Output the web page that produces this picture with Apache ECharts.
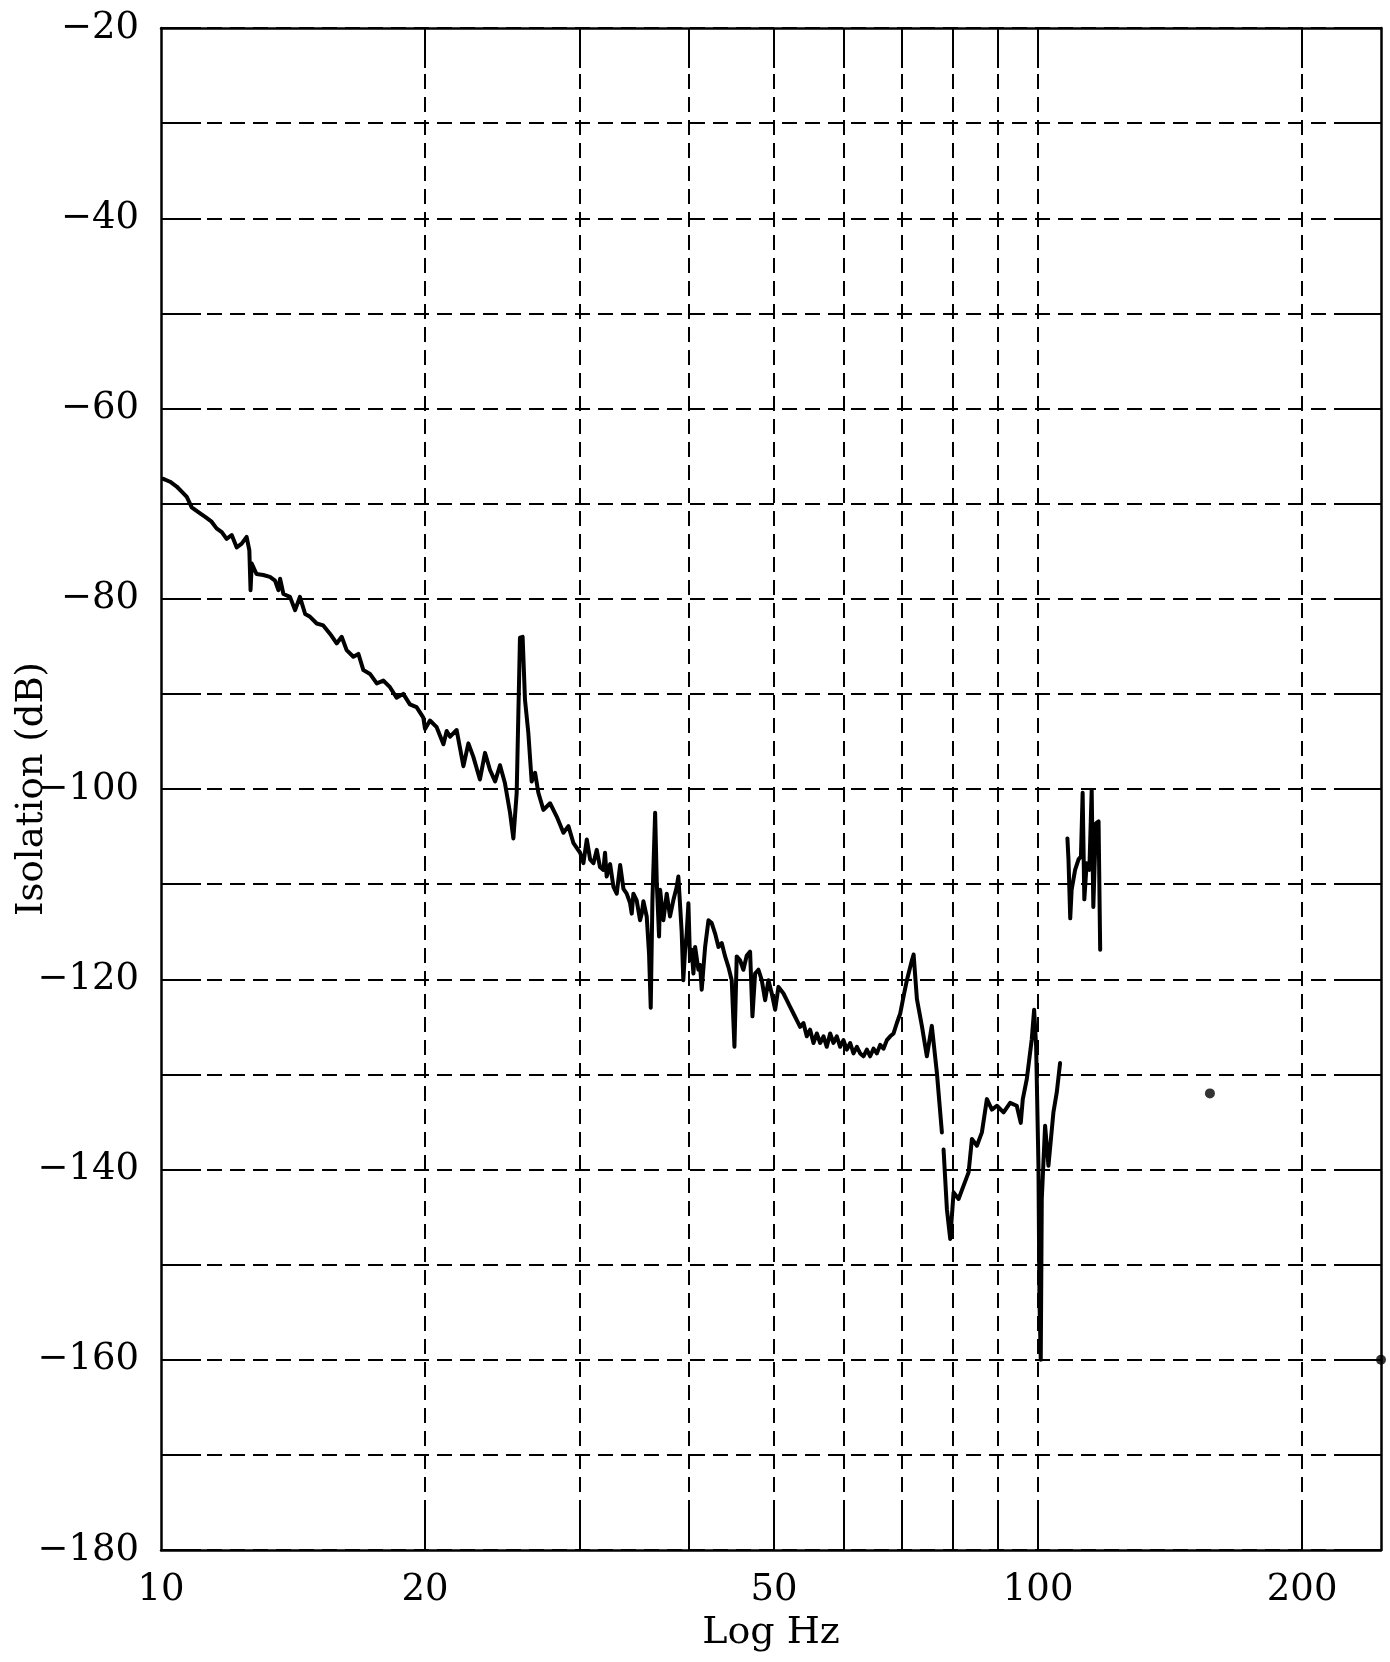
<!DOCTYPE html>
<html>
<head>
<meta charset="utf-8">
<title>Isolation vs frequency</title>
<script src="https://cdn.jsdelivr.net/npm/echarts@6/dist/echarts.min.js"></script>
<style>
  html, body { margin: 0; padding: 0; background: #fff; }
  #chart { width: 1390px; height: 1662px; }
</style>
</head>
<body>
<div id="chart"></div>
<script>
// Measured isolation trace, 10 Hz to 77.7 Hz (continuous sweep)
const freqLow = [
  10.06, 10.24, 10.42, 10.60, 10.70, 10.84, 11.03, 11.23, 11.42, 11.57,
  11.73, 11.88, 12.04, 12.20, 12.36, 12.52, 12.61, 12.65, 12.69, 12.85,
  13.08, 13.31, 13.49, 13.61, 13.67, 13.79, 14.03, 14.22, 14.40, 14.60,
  14.79, 15.05, 15.31, 15.59, 15.86, 16.07, 16.28, 16.57, 16.79, 17.01,
  17.31, 17.62, 17.93, 18.24, 18.56, 18.89, 19.22, 19.56, 19.91, 20.00,
  20.26, 20.62, 20.99, 21.17, 21.36, 21.73, 22.12, 22.41, 22.70, 23.10,
  23.41, 23.72, 24.04, 24.35, 24.67, 25.00, 25.22, 25.44, 25.66, 25.84,
  26.00, 26.23, 26.46, 26.70, 26.93, 27.29, 27.77, 28.26, 28.76, 29.14,
  29.53, 30.05, 30.31, 30.58, 30.85, 31.12, 31.39, 31.66, 31.94, 32.08,
  32.22, 32.51, 32.80, 33.08, 33.38, 33.52, 33.67, 33.96, 34.26, 34.41,
  34.56, 34.86, 35.17, 35.33, 35.48, 35.79, 36.01, 36.17, 36.33, 36.59,
  36.75, 36.97, 37.07, 37.39, 37.72, 38.05, 38.38, 38.72, 38.89, 39.23,
  39.40, 39.58, 39.75, 39.93, 40.10, 40.28, 40.46, 40.64, 40.99, 41.17,
  41.35, 41.72, 42.09, 42.45, 42.83, 43.21, 43.58, 43.97, 44.35, 44.74,
  45.06, 45.33, 45.73, 46.13, 46.54, 46.95, 47.24, 47.57, 47.99, 48.41,
  48.84, 49.27, 49.70, 50.14, 50.58, 51.25, 51.70, 52.15, 52.61, 53.07,
  53.54, 54.01, 54.48, 54.96, 55.45, 55.94, 56.43, 56.93, 57.42, 57.93,
  58.44, 58.95, 59.47, 59.99, 60.52, 61.06, 61.59, 62.14, 62.68, 63.23,
  63.79, 64.35, 64.91, 65.48, 66.06, 66.64, 67.23, 67.82, 68.42, 69.02,
  69.63, 70.24, 70.86, 71.80, 72.12, 72.75, 73.70, 74.68, 75.65, 76.66,
  77.68
];
const isoLow = [
  -67.4, -67.7, -68.2, -68.9, -69.3, -70.4, -70.9, -71.4, -71.9, -72.6,
  -73.0, -73.7, -73.3, -74.6, -74.2, -73.5, -74.9, -79.1, -76.3, -77.4,
  -77.5, -77.7, -78.1, -79.1, -77.9, -79.5, -79.8, -81.2, -79.8, -81.6,
  -81.9, -82.6, -82.8, -83.7, -84.7, -84.0, -85.4, -86.1, -85.8, -87.5,
  -87.9, -88.9, -88.6, -89.3, -90.4, -90.0, -91.1, -91.4, -92.5, -93.7,
  -92.8, -93.5, -95.3, -93.9, -94.5, -93.8, -97.6, -95.2, -96.6, -99.0,
  -96.2, -98.0, -99.2, -97.5, -99.4, -102.5, -105.2, -100.4, -84.1, -84.0,
  -90.6, -94.1, -99.2, -98.3, -100.4, -102.2, -101.5, -102.9, -104.6, -103.9,
  -105.7, -106.7, -107.8, -105.3, -107.4, -107.8, -106.4, -108.2, -108.5, -106.7,
  -109.2, -107.9, -110.3, -111.0, -108.0, -108.2, -110.5, -111.0, -112.0, -113.1,
  -111.0, -111.7, -113.8, -113.1, -111.8, -113.4, -117.3, -123.0, -111.7, -102.5,
  -109.9, -115.5, -110.6, -113.8, -111.0, -113.4, -111.7, -110.3, -109.2, -115.0,
  -120.1, -117.0, -115.2, -112.0, -118.0, -116.9, -119.4, -116.6, -119.0, -118.5,
  -121.1, -116.6, -113.8, -114.1, -115.2, -116.6, -116.2, -117.6, -118.7, -120.1,
  -127.1, -117.6, -118.0, -119.0, -117.5, -117.1, -123.9, -119.4, -119.0, -120.1,
  -122.2, -120.1, -121.5, -123.2, -120.8, -121.5, -122.2, -122.9, -123.6, -124.3,
  -125.0, -124.6, -126.0, -125.3, -126.7, -125.7, -126.7, -126.0, -127.1, -125.7,
  -126.7, -126.0, -127.1, -126.4, -127.4, -126.7, -127.8, -127.1, -127.8, -128.1,
  -127.4, -128.1, -127.3, -127.8, -126.9, -127.3, -126.4, -126.0, -125.7, -124.6,
  -123.6, -121.8, -120.1, -118.0, -117.4, -122.1, -124.9, -128.1, -124.9, -129.8,
  -136.1
];

// Trace resumes after the short dropout near 78 Hz
const freqHigh = [
  78.02, 78.71, 79.40, 80.10, 81.16, 82.23, 83.32, 84.05, 85.16, 86.28,
  87.42, 88.58, 89.74, 91.33, 92.92, 94.55, 95.55, 96.06, 97.07, 98.35,
  98.96, 99.48, 100.09, 100.35, 100.70, 100.97, 101.85, 102.75, 104.10, 105.02,
  105.94
];
const isoHigh = [
  -137.9, -144.2, -147.3, -142.4, -143.1, -141.7, -140.3, -136.8, -137.5, -136.1,
  -132.6, -133.7, -133.3, -134.0, -133.0, -133.3, -135.1, -132.6, -130.5, -126.3,
  -123.2, -127.0, -139.6, -153.6, -160.0, -143.1, -135.4, -139.6, -134.0, -131.9,
  -128.8
];

// Isolated band around 108-118 Hz
const freqBand = [
  108.0, 108.3, 108.8, 109.2, 110.2, 111.2, 111.9, 112.4, 112.9, 113.6,
  114.4, 115.1, 115.6, 116.4, 117.2, 117.7
];
const isoBand = [
  -105.2, -107.4, -113.6, -110.6, -108.5, -107.4, -107.1, -100.4, -111.6, -107.8,
  -108.5, -100.1, -112.4, -103.6, -103.4, -116.9
];

// Single isolated readings
const dotFreq = [157, 246];
const dotIso = [-132, -160];

// Axis ranges, grid positions and labelled ticks
const xMinHz = 10;
const xMaxHz = 246;
const xGridHz = [20, 30, 40, 50, 60, 70, 80, 90, 100, 200];
const xLabelHz = [10, 20, 50, 100, 200];
const yMinDb = -180;
const yMaxDb = -20;
const yStepDb = 10;

const pairs = (xs, ys) => xs.map((x, i) => [x, ys[i]]);

const FONT = 'DejaVu Serif';
const INK = '#000';
const gridDash = { type: [15, 8], color: INK, width: 2 };
const edge = { show: true, onZero: false, lineStyle: { color: INK, width: 2.5 } };
const tickStyle = { color: INK, width: 2 };

const traceStyle = { color: INK, width: 4, join: 'round', cap: 'round' };
const traceSeries = (name, xs, ys) => ({
  name, type: 'line', data: pairs(xs, ys),
  showSymbol: false, symbol: 'none', lineStyle: traceStyle,
  animation: false, z: 5
});

const chart = echarts.init(document.getElementById('chart'), null, { renderer: 'canvas' });
chart.setOption({
  backgroundColor: '#fff',
  animation: false,
  grid: { left: 161, right: 9, top: 28, bottom: 112, containLabel: false, outerBoundsMode: 'none' },
  xAxis: [
    {
      type: 'log', logBase: 10, min: xMinHz, max: xMaxHz, position: 'bottom',
      name: 'Log Hz', nameLocation: 'middle', nameGap: 64, nameMoveOverlap: false,
      nameTextStyle: { color: INK, fontFamily: FONT, fontSize: 38, verticalAlign: 'top' },
      axisLine: edge,
      axisTick: { show: true, inside: true, length: 40, lineStyle: tickStyle, customValues: xGridHz },
      axisLabel: { color: INK, fontFamily: FONT, fontSize: 37, margin: 22, customValues: xLabelHz,
                   formatter: v => String(Math.round(v)) },
      splitLine: { show: true, lineStyle: gridDash },
      minorTick: { show: false }, minorSplitLine: { show: false }
    },
    {
      type: 'log', logBase: 10, min: xMinHz, max: xMaxHz, position: 'top',
      axisLine: edge,
      axisTick: { show: true, inside: true, length: 40, lineStyle: tickStyle, customValues: xGridHz },
      axisLabel: { show: false },
      splitLine: { show: false }
    }
  ],
  yAxis: [
    {
      type: 'value', min: yMinDb, max: yMaxDb, interval: yStepDb, position: 'left',
      name: 'Isolation (dB)', nameLocation: 'middle', nameGap: 110, nameRotate: 90,
      nameMoveOverlap: false,
      nameTextStyle: { color: INK, fontFamily: FONT, fontSize: 37 },
      axisLine: edge,
      axisTick: { show: true, inside: true, length: 40, lineStyle: tickStyle },
      axisLabel: {
        color: INK, fontFamily: FONT, fontSize: 37, margin: 22,
        formatter: v => (v % 20 === 0 ? '\u2212' + Math.abs(v) : '')
      },
      splitLine: { show: true, lineStyle: gridDash }
    },
    {
      type: 'value', min: yMinDb, max: yMaxDb, interval: yStepDb, position: 'right',
      axisLine: edge,
      axisTick: { show: true, inside: true, length: 34, lineStyle: tickStyle },
      axisLabel: { show: false },
      splitLine: { show: false }
    }
  ],
  series: [
    traceSeries('sweep-low', freqLow, isoLow),
    traceSeries('sweep-high', freqHigh, isoHigh),
    traceSeries('band', freqBand, isoBand),
    {
      name: 'points', type: 'scatter', data: pairs(dotFreq, dotIso),
      symbol: 'circle', symbolSize: 10, itemStyle: { color: INK }, z: 6
    }
  ]
});
</script>
</body>
</html>
